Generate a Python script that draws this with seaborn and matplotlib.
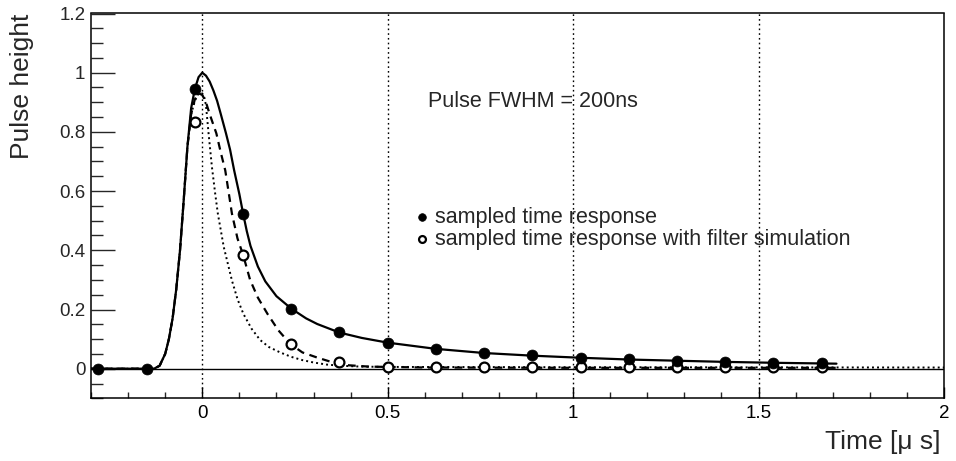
import numpy as np
import pandas as pd
import matplotlib
matplotlib.use("Agg")
import matplotlib.pyplot as plt
from matplotlib.ticker import MultipleLocator
import seaborn as sns

# ---------------- data ----------------
t_solid = [-0.30, -0.13, -0.115, -0.10, -0.09, -0.08, -0.07, -0.06, -0.05, -0.04, -0.03,
           -0.02, -0.01, 0.0, 0.01, 0.02, 0.03, 0.04, 0.05, 0.064, 0.075, 0.086, 0.10,
           0.11, 0.12, 0.13, 0.15, 0.17, 0.20, 0.24, 0.28, 0.31, 0.37, 0.43, 0.50,
           0.63, 0.76, 0.89, 1.02, 1.15, 1.28, 1.41, 1.54, 1.71]
h_solid = [0.0, 0.0, 0.01, 0.05, 0.10, 0.17, 0.27, 0.40, 0.57, 0.75, 0.88,
           0.945, 0.985, 1.0, 0.99, 0.97, 0.94, 0.905, 0.86, 0.795, 0.74, 0.67, 0.59,
           0.525, 0.465, 0.415, 0.345, 0.295, 0.245, 0.203, 0.17, 0.151, 0.122, 0.104, 0.088,
           0.067, 0.053, 0.044, 0.037, 0.031, 0.027, 0.023, 0.020, 0.017]

t_dashed = [-0.30, -0.13, -0.115, -0.10, -0.09, -0.08, -0.07, -0.06, -0.05, -0.04, -0.03,
            -0.02, -0.01, 0.0, 0.01, 0.02, 0.038, 0.05, 0.062, 0.08, 0.095, 0.11, 0.129,
            0.15, 0.176, 0.205, 0.237, 0.27, 0.309, 0.35, 0.39, 0.45, 0.60, 1.0, 1.71]
h_dashed = [0.0, 0.0, 0.01, 0.05, 0.10, 0.17, 0.27, 0.40, 0.57, 0.75, 0.86,
            0.91, 0.93, 0.925, 0.90, 0.86, 0.795, 0.73, 0.67, 0.524, 0.44, 0.385, 0.30,
            0.24, 0.185, 0.13, 0.084, 0.055, 0.038, 0.022, 0.012, 0.007, 0.004, 0.003, 0.003]

t_dotted = [-0.30, -0.13, -0.115, -0.10, -0.09, -0.08, -0.07, -0.06, -0.05, -0.04, -0.03,
            -0.02, -0.01, 0.0, 0.005, 0.01, 0.017, 0.026, 0.035, 0.042, 0.058, 0.08,
            0.095, 0.111, 0.133, 0.156, 0.18, 0.21, 0.24, 0.27, 0.30, 0.335, 0.372,
            0.43, 0.50, 1.0, 2.0]
h_dotted = [0.0, 0.0, 0.01, 0.05, 0.10, 0.17, 0.27, 0.40, 0.57, 0.75, 0.86,
            0.905, 0.93, 0.93, 0.92, 0.89, 0.795, 0.682, 0.59, 0.524, 0.411, 0.298,
            0.235, 0.185, 0.135, 0.097, 0.073, 0.055, 0.040, 0.029, 0.021, 0.014, 0.010,
            0.007, 0.006, 0.005, 0.004]

t_sampled = [-0.28, -0.15, -0.02, 0.11, 0.24, 0.37, 0.50, 0.63, 0.76, 0.89,
             1.02, 1.15, 1.28, 1.41, 1.54, 1.67]
h_sampled = [0.0, 0.0, 0.945, 0.523, 0.203, 0.124, 0.087, 0.066, 0.052, 0.045,
             0.037, 0.033, 0.027, 0.024, 0.020, 0.018]

t_filter = [-0.02, 0.11, 0.24, 0.37, 0.50, 0.63, 0.76, 0.89,
            1.02, 1.15, 1.28, 1.41, 1.54, 1.67]
h_filter = [0.835, 0.385, 0.083, 0.022, 0.007, 0.006, 0.006, 0.006,
            0.006, 0.006, 0.006, 0.006, 0.006, 0.006]

x_ticks = [0, 0.5, 1, 1.5, 2]
x_ticklabels = ["0", "0.5", "1", "1.5", "2"]
y_ticks = [0, 0.2, 0.4, 0.6, 0.8, 1.0, 1.2]
y_ticklabels = ["0", "0.2", "0.4", "0.6", "0.8", "1", "1.2"]

legend_labels = ["sampled time response", "sampled time response with filter simulation"]
annotation = "Pulse FWHM = 200ns"
xlabel = "Time [\u03bc s]"
ylabel = "Pulse height"

# ---------------- style ----------------
sns.set_style("white")
plt.rcParams["font.family"] = ["Liberation Sans", "DejaVu Sans"]
plt.rcParams["axes.linewidth"] = 1.1

W, H = 956, 461
fig = plt.figure(figsize=(W / 100, H / 100), dpi=100)
ax_l, ax_r, ax_t, ax_b = 91, 944, 13.5, 398.3
ax = fig.add_axes([ax_l / W, 1 - ax_b / H, (ax_r - ax_l) / W, (ax_b - ax_t) / H])

ax.set_xlim(-0.3, 2.0)
ax.set_ylim(-0.1, 1.2)

# reference lines
ax.axhline(0, color="black", lw=1.0, zorder=1)
for xv in x_ticks[:-1]:
    ax.axvline(xv, color="black", lw=1.0, ls=(0, (1.2, 2.2)), zorder=1)

df_s = pd.DataFrame({"t": t_solid, "h": h_solid})
df_d = pd.DataFrame({"t": t_dashed, "h": h_dashed})
df_o = pd.DataFrame({"t": t_dotted, "h": h_dotted})
sns.lineplot(data=df_o, x="t", y="h", ax=ax, color="black", lw=1.4,
             linestyle=(0, (1.0, 1.6)), sort=False, estimator=None, zorder=2)
sns.lineplot(data=df_d, x="t", y="h", ax=ax, color="black", lw=1.6,
             linestyle=(0, (3.5, 2.5)), sort=False, estimator=None, zorder=3)
sns.lineplot(data=df_s, x="t", y="h", ax=ax, color="black", lw=1.6,
             sort=False, estimator=None, zorder=4)

df_f = pd.DataFrame({"t": t_filter, "h": h_filter})
df_p = pd.DataFrame({"t": t_sampled, "h": h_sampled})
sns.scatterplot(data=df_f, x="t", y="h", ax=ax, marker="o", s=50, facecolor="white",
                edgecolor="black", linewidth=1.6, zorder=5, label=legend_labels[1])
sns.scatterplot(data=df_p, x="t", y="h", ax=ax, marker="o", s=62, color="black",
                edgecolor="black", linewidth=0.5, zorder=6, label=legend_labels[0])

# ticks
ax.set_xticks(x_ticks)
ax.set_xticklabels(x_ticklabels)
ax.set_yticks(y_ticks)
ax.set_yticklabels(y_ticklabels)
ax.xaxis.set_minor_locator(MultipleLocator(0.1))
ax.yaxis.set_minor_locator(MultipleLocator(0.05))
ax.tick_params(axis="x", which="major", direction="in", length=8, width=1, pad=5,
               labelsize=13.5, bottom=True, top=False, colors="black")
ax.tick_params(axis="x", which="minor", direction="in", length=4, width=1,
               bottom=True, top=False)
ax.tick_params(axis="y", which="major", direction="in", length=17, width=1, pad=4,
               labelsize=13.5, left=True, right=False)
ax.tick_params(axis="y", which="minor", direction="in", length=8.6, width=1,
               left=True, right=False)
for sp in ax.spines.values():
    sp.set_visible(True)
    sp.set_color("black")

ax.set_xlabel(xlabel, fontsize=19, loc="right")
ax.xaxis.set_label_coords(0.996, -0.083)
ax.set_ylabel(ylabel, fontsize=19, loc="top")
ax.yaxis.set_label_coords(-0.067, 1.0)

ax.text(0.61, 0.884, annotation, fontsize=15.5, ha="left", va="baseline")

# legend
handles, labels = ax.get_legend_handles_labels()
order = [labels.index(legend_labels[0]), labels.index(legend_labels[1])]
h_leg = [handles[i] for i in order]
leg = ax.legend(h_leg, [labels[i] for i in order], loc="upper left",
                bbox_to_anchor=((416 - ax_l) / (ax_r - ax_l), (ax_b - 207) / (ax_b - ax_t)),
                frameon=False, fontsize=15.5, handlelength=0.6, handletextpad=0.3,
                borderpad=0, borderaxespad=0, labelspacing=0.05, markerscale=0.7)

fig.savefig("out.png", dpi=100)
